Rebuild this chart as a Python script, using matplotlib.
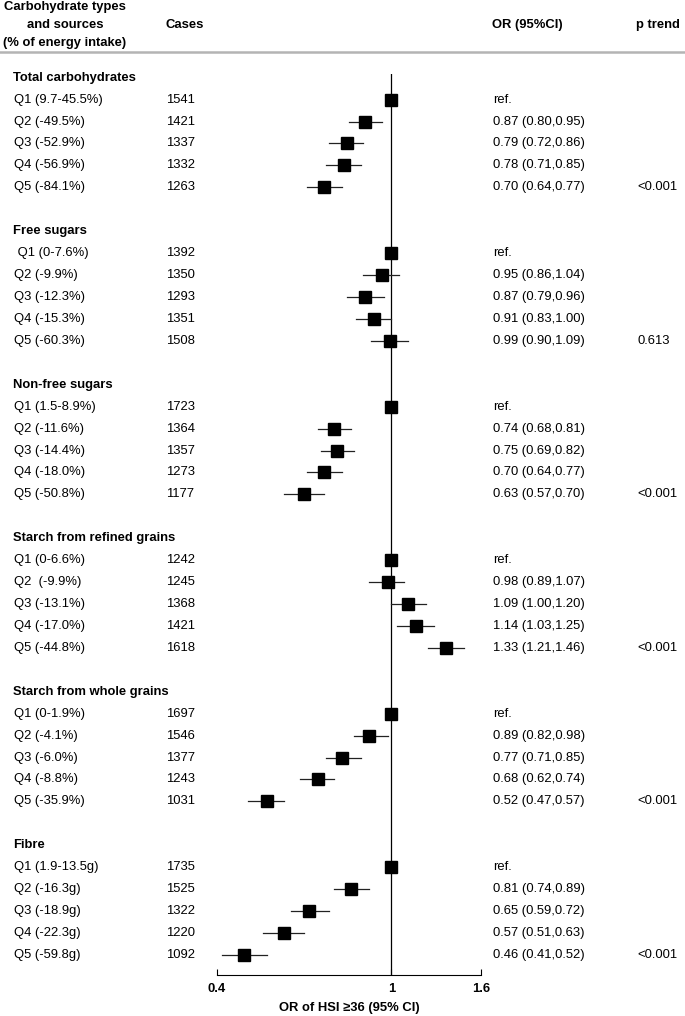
import numpy as np
import matplotlib
matplotlib.use('Agg')
import matplotlib.pyplot as plt
from matplotlib import transforms
from matplotlib.lines import Line2D

plt.rcParams['font.family'] = ['Liberation Sans', 'DejaVu Sans']

# ---- data ----
groups = ['Total carbohydrates', 'Free sugars', 'Non-free sugars',
          'Starch from refined grains', 'Starch from whole grains', 'Fibre']

quintile_labels = [
    ['Q1 (9.7-45.5%)', 'Q2 (-49.5%)', 'Q3 (-52.9%)', 'Q4 (-56.9%)', 'Q5 (-84.1%)'],
    [' Q1 (0-7.6%)', 'Q2 (-9.9%)', 'Q3 (-12.3%)', 'Q4 (-15.3%)', 'Q5 (-60.3%)'],
    ['Q1 (1.5-8.9%)', 'Q2 (-11.6%)', 'Q3 (-14.4%)', 'Q4 (-18.0%)', 'Q5 (-50.8%)'],
    ['Q1 (0-6.6%)', 'Q2  (-9.9%)', 'Q3 (-13.1%)', 'Q4 (-17.0%)', 'Q5 (-44.8%)'],
    ['Q1 (0-1.9%)', 'Q2 (-4.1%)', 'Q3 (-6.0%)', 'Q4 (-8.8%)', 'Q5 (-35.9%)'],
    ['Q1 (1.9-13.5g)', 'Q2 (-16.3g)', 'Q3 (-18.9g)', 'Q4 (-22.3g)', 'Q5 (-59.8g)'],
]

cases = [
    [1541, 1421, 1337, 1332, 1263],
    [1392, 1350, 1293, 1351, 1508],
    [1723, 1364, 1357, 1273, 1177],
    [1242, 1245, 1368, 1421, 1618],
    [1697, 1546, 1377, 1243, 1031],
    [1735, 1525, 1322, 1220, 1092],
]

odds = [
    [1.00, 0.87, 0.79, 0.78, 0.70],
    [1.00, 0.95, 0.87, 0.91, 0.99],
    [1.00, 0.74, 0.75, 0.70, 0.63],
    [1.00, 0.98, 1.09, 1.14, 1.33],
    [1.00, 0.89, 0.77, 0.68, 0.52],
    [1.00, 0.81, 0.65, 0.57, 0.46],
]

ci_low = [
    [1.00, 0.80, 0.72, 0.71, 0.64],
    [1.00, 0.86, 0.79, 0.83, 0.90],
    [1.00, 0.68, 0.69, 0.64, 0.57],
    [1.00, 0.89, 1.00, 1.03, 1.21],
    [1.00, 0.82, 0.71, 0.62, 0.47],
    [1.00, 0.74, 0.59, 0.51, 0.41],
]

ci_high = [
    [1.00, 0.95, 0.86, 0.85, 0.77],
    [1.00, 1.04, 0.96, 1.00, 1.09],
    [1.00, 0.81, 0.82, 0.77, 0.70],
    [1.00, 1.07, 1.20, 1.25, 1.46],
    [1.00, 0.98, 0.85, 0.74, 0.57],
    [1.00, 0.89, 0.72, 0.63, 0.52],
]

p_trend = ['<0.001', '0.613', '<0.001', '<0.001', '<0.001', '<0.001']

xticks = [0.4, 1, 1.6]
xtick_labels = ['0.4', '1', '1.6']

# ---- layout (pixels of the 685x1016 canvas) ----
W, H = 685, 1016
fs = 9.4
row0_px, row_step = 77.7, 21.93


def fx(px):
    return px / W


def fy(py):
    return 1 - py / H


fig = plt.figure(figsize=(W / 100, H / 100), dpi=100)
ax_top, ax_bot = 74, 975
ax = fig.add_axes([fx(217), fy(ax_bot), fx(481) - fx(217), (ax_bot - ax_top) / H])
ax.set_xscale('log')
ax.set_xlim(0.4, 1.6)
ax.set_ylim((ax_bot - row0_px) / row_step, (ax_top - row0_px) / row_step)

trans = transforms.blended_transform_factory(fig.transFigure, ax.transData)

row = 0
for g, name in enumerate(groups):
    ax.text(fx(13), row, name, transform=trans, fontsize=fs, fontweight='bold', va='center')
    row += 1
    for i in range(5):
        ax.text(fx(14), row, quintile_labels[g][i], transform=trans, fontsize=fs, va='center')
        ax.text(fx(166), row, str(cases[g][i]), transform=trans, fontsize=fs, va='center')
        if i == 0:
            or_txt = 'ref.'
        else:
            or_txt = f'{odds[g][i]:.2f} ({ci_low[g][i]:.2f},{ci_high[g][i]:.2f})'
        ax.text(fx(493), row, or_txt, transform=trans, fontsize=fs, va='center')
        if i == 4:
            ax.text(fx(637), row, p_trend[g], transform=trans, fontsize=fs, va='center')
        ax.plot([ci_low[g][i], ci_high[g][i]], [row, row], color='#222222', lw=0.9, zorder=2)
        ax.plot(odds[g][i], row, marker='s', markersize=8.2, color='black', zorder=3)
        row += 1
    row += 1

ax.axvline(1, color='black', lw=0.9, zorder=1)

for s in ['top', 'left', 'right']:
    ax.spines[s].set_visible(False)
ax.spines['bottom'].set_linewidth(0.8)
ax.set_yticks([])
ax.set_xticks(xticks)
ax.set_xticklabels(xtick_labels, fontweight='bold', fontsize=fs)
ax.minorticks_off()
ax.tick_params(axis='x', direction='in', length=4, width=0.8, pad=6)

# header
fig.text(fx(65), fy(7), 'Carbohydrate types', ha='center', va='center', fontsize=fs, fontweight='bold')
fig.text(fx(65), fy(25), 'and sources', ha='center', va='center', fontsize=fs, fontweight='bold')
fig.text(fx(65), fy(43), '(% of energy intake)', ha='center', va='center', fontsize=fs, fontweight='bold')
fig.text(fx(166), fy(25), 'Cases', va='center', fontsize=fs, fontweight='bold')
fig.text(fx(492), fy(25), 'OR (95%CI)', va='center', fontsize=fs, fontweight='bold')
fig.text(fx(636), fy(25), 'p trend', va='center', fontsize=fs, fontweight='bold')
fig.add_artist(Line2D([0, 1], [fy(52), fy(52)], transform=fig.transFigure, color='#b4b4b4', lw=1.8))

fig.text(fx(349), fy(1008), 'OR of HSI \u226536 (95% CI)', ha='center', va='center',
         fontsize=fs, fontweight='bold')

fig.savefig('out.png', dpi=100)
